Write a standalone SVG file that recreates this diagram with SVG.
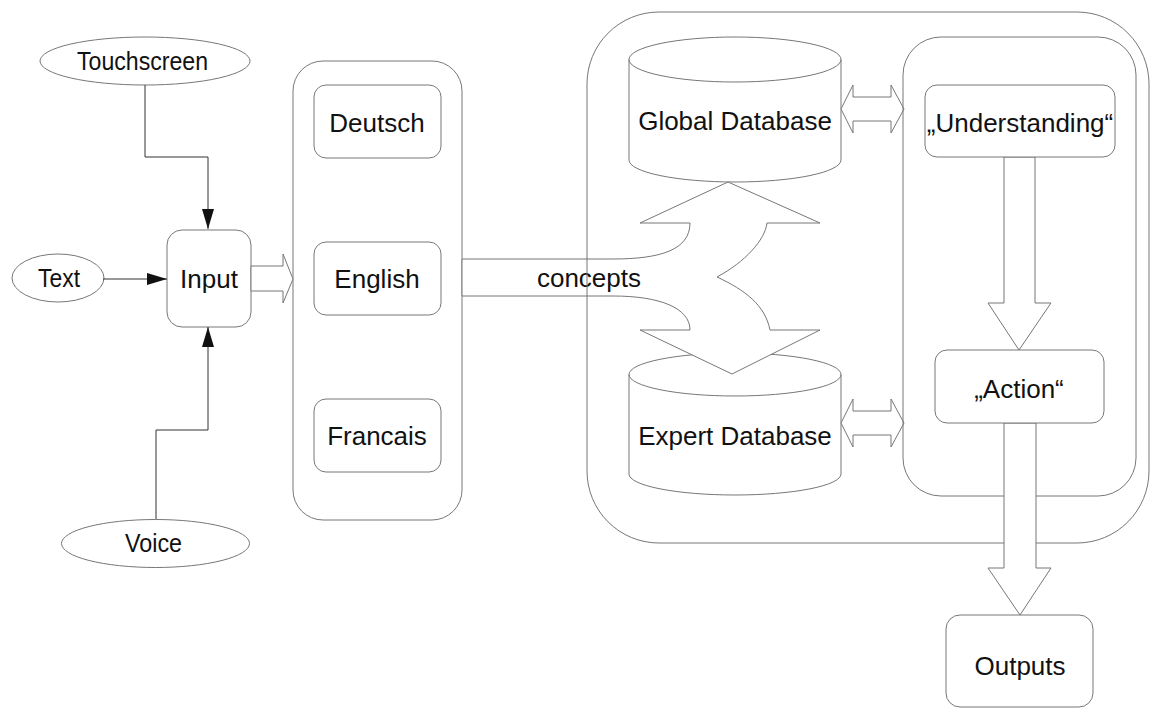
<svg xmlns="http://www.w3.org/2000/svg" width="1151" height="709" viewBox="0 0 1151 709">
<style>
.sh{fill:#fff;stroke:#777;stroke-width:1}
.op{fill:none;stroke:#777;stroke-width:1}
.cn{fill:none;stroke:#333;stroke-width:1}
.blk{fill:#fff;stroke:#777;stroke-width:1}
text{font-family:"Liberation Sans",Arial,sans-serif;font-size:26px;fill:#111}
.m{text-anchor:middle}
</style>
<defs>
<marker id="ah" markerUnits="userSpaceOnUse" markerWidth="20" markerHeight="12" refX="20" refY="6" orient="auto">
<path d="M0,0 L20,6 L0,12 Z" fill="#111"/>
</marker>
</defs>
<rect width="1151" height="709" fill="#fff"/>
<g id="languages"><rect class="op" x="293" y="61" width="169" height="459" rx="30"/></g>
<g id="deutsch"><rect class="sh" x="314" y="85" width="127" height="73" rx="12"/><text class="m" x="377" y="132">Deutsch</text></g>
<g id="english"><rect class="sh" x="314" y="242" width="127" height="73" rx="12"/><text class="m" x="377" y="288">English</text></g>
<g id="francais"><rect class="sh" x="314" y="399" width="127" height="73" rx="12"/><text class="m" x="377" y="445">Francais</text></g>
<g id="input"><rect class="sh" x="167" y="230" width="84" height="97" rx="15"/><text class="m" x="209" y="288">Input</text></g>
<g id="touchscreen"><ellipse class="sh" cx="145" cy="61" rx="105" ry="24"/><text x="77" y="70" textLength="131" lengthAdjust="spacingAndGlyphs">Touchscreen</text></g>
<g id="text"><ellipse class="sh" cx="58" cy="278" rx="46" ry="24"/><text x="38" y="287" textLength="42" lengthAdjust="spacingAndGlyphs">Text</text></g>
<g id="voice"><ellipse class="sh" cx="155.5" cy="543.5" rx="94" ry="24"/><text x="125" y="552" textLength="57" lengthAdjust="spacingAndGlyphs">Voice</text></g>
<g id="global-db">
<path class="sh" d="M629,59.5 L629,160 A106,22 0 0 0 841,160 L841,59.5 A106,22.5 0 0 0 629,59.5 Z"/>
<path class="op" d="M629,59.5 A106,22.5 0 0 0 841,59.5"/>
<text class="m" x="735" y="130">Global Database</text>
</g>
<g id="expert-db">
<path class="sh" d="M629,374.5 L629,474 A106,21 0 0 0 841,474 L841,374.5 A106,21.5 0 0 0 629,374.5 Z"/>
<path class="op" d="M629,374.5 A106,21.5 0 0 0 841,374.5"/>
<text class="m" x="735" y="445">Expert Database</text>
</g>
<g id="connectors">
<path class="cn" d="M145,85 V157 H208 V229" marker-end="url(#ah)"/>
<path class="cn" d="M103,279 H167" marker-end="url(#ah)"/>
<path class="cn" d="M156,519 V430 H208 V327" marker-end="url(#ah)"/>
<path class="blk" d="M251,266 L283,266 L283,254 L293,279 L283,303 L283,291 L251,291 Z"/>
<path class="blk" d="M462,259 L613,259 C660,259 690,250 690,223 L640,223 L728,182 L820,223 L767,223 C765,240 745,262 717,277 C745,290 765,305 770,330 L820,330 L732,374 L640,330 L690,330 C690,308 660,296 613,296 L462,296 Z"/>
<text class="m" x="589" y="287">concepts</text>
<path class="blk" d="M841,109 L853,85 L853,97 L891,97 L891,85 L904,109 L891,133 L891,121 L853,121 L853,133 Z"/>
<path class="blk" d="M841,423 L853,399 L853,411 L891,411 L891,399 L904,423 L891,447 L891,435 L853,435 L853,447 Z"/>
<path class="blk" d="M1004,157 L1004,303 L988,303 L1019,350 L1051,303 L1035,303 L1035,157 Z"/>
<path class="blk" d="M1004,423 L1004,568 L988,568 L1020,615 L1051,568 L1036,568 L1036,423 Z"/>
</g>
<g id="knowledge-container"><path class="op" d="M1036,543 L1077,543 A72,72 0 0 0 1149,471 L1149,84 A72,72 0 0 0 1077,12 L659,12 A72,72 0 0 0 587,84 L587,471 A72,72 0 0 0 659,543 L1004,543"/></g>
<g id="processing-container"><path class="op" d="M1036,496 L1098,496 A38,38 0 0 0 1136,458 L1136,75 A38,38 0 0 0 1098,37 L941,37 A38,38 0 0 0 903,75 L903,458 A38,38 0 0 0 941,496 L1004,496"/></g>
<g id="understanding"><rect class="sh" x="925" y="85" width="190" height="72" rx="12"/><text class="m" x="1020" y="132">„Understanding“</text></g>
<g id="action"><rect class="sh" x="935" y="350" width="169" height="73" rx="12"/><text class="m" x="1019" y="398">„Action“</text></g>
<g id="outputs"><rect class="sh" x="946" y="615" width="147" height="92" rx="14"/><text class="m" x="1020" y="675">Outputs</text></g>
</svg>
